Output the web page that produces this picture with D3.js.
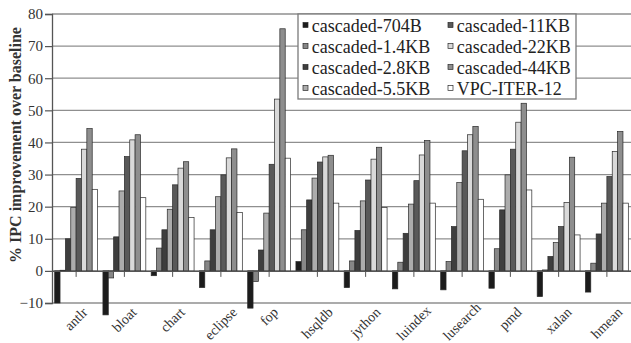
<!DOCTYPE html>
<html><head><meta charset="utf-8">
<script src="https://cdn.jsdelivr.net/npm/d3@7"></script>
<style>body{margin:0;background:#fff}svg{display:block}</style>
</head><body><svg id="c" width="631" height="343"></svg>
<script>
const categories = ["antlr","bloat","chart","eclipse","fop","hsqldb","jython","luindex","lusearch","pmd","xalan","hmean"];
const seriesNames = ["cascaded-704B","cascaded-1.4KB","cascaded-2.8KB","cascaded-5.5KB","cascaded-11KB","cascaded-22KB","cascaded-44KB","VPC-ITER-12"];
const s704B  = [-10, -13.7, -1.5, -5.2, -11.6, 2.9, -5.2, -5.6, -5.9, -5.4, -8.0, -6.6];
const s1_4KB = [0.2, -2.2, 7.1, 3.1, -3.3, 12.8, 3.1, 2.7, 2.9, 6.9, 0.3, 2.4];
const s2_8KB = [10.0, 10.6, 12.8, 12.8, 6.5, 22.1, 12.6, 11.7, 13.8, 19.0, 4.5, 11.5];
const s5_5KB = [19.7, 24.9, 19.2, 23.1, 18.0, 28.9, 21.8, 20.8, 27.5, 29.9, 8.8, 21.1];
const s11KB  = [28.8, 35.6, 26.8, 29.9, 33.2, 33.9, 28.3, 28.1, 37.4, 37.9, 13.8, 29.4];
const s22KB  = [37.9, 40.8, 32.0, 35.2, 53.5, 35.5, 34.8, 36.1, 42.4, 46.3, 21.3, 37.2];
const s44KB  = [44.3, 42.4, 34.0, 38.0, 75.4, 36.0, 38.5, 40.6, 45.0, 52.2, 35.4, 43.4];
const sVPC   = [25.4, 22.8, 16.6, 18.2, 35.1, 21.1, 19.7, 21.1, 22.3, 25.2, 11.2, 21.1];
const yTicks = [-10, 0, 10, 20, 30, 40, 50, 60, 70, 80];
const seriesColors = ["#1c1c1c","#878787","#3e3e3e","#acacac","#595959","#d9d9d9","#8e8e8e","#ffffff"];
const yTitle = "% IPC improvement over baseline";

const allSeries = [s704B, s1_4KB, s2_8KB, s5_5KB, s11KB, s22KB, s44KB, sVPC];

const svg = d3.select("#c");
const pLeft = 52, pRight = 631, pTop = 14, pBottom = 303;
const serif = "'Liberation Serif','Times New Roman',serif";

const y = d3.scaleLinear().domain([-10, 80]).range([pBottom, pTop]);
const x0 = d3.scaleBand().domain(categories).range([pLeft, pRight]).padding(0);
const x1 = d3.scaleBand().domain(seriesNames).range([0, x0.bandwidth()]).paddingInner(0).paddingOuter(0.5);

// gridlines
svg.append("g").selectAll("line").data(yTicks).join("line")
  .attr("x1", pLeft).attr("x2", pRight)
  .attr("y1", d => y(d)).attr("y2", d => y(d))
  .attr("stroke", "#8f8f8f").attr("stroke-width", 1.3);

// y axis
const yAxis = svg.append("g").attr("transform", `translate(${pLeft},0)`)
  .call(d3.axisLeft(y).tickValues(yTicks).tickSize(7).tickPadding(2).tickFormat(d3.format("d")));
yAxis.select(".domain").attr("stroke", "#555").attr("stroke-width", 1.3);
yAxis.selectAll(".tick line").attr("stroke", "#555").attr("stroke-width", 1.2);
yAxis.selectAll("text").attr("font-family", serif).attr("font-size", 15).attr("fill", "#333");

// bars
const groups = svg.append("g").selectAll("g").data(categories).join("g")
  .attr("transform", d => `translate(${x0(d)},0)`);
groups.selectAll("rect").data((c, ci) => seriesNames.map((s, si) => ({s, si, v: allSeries[si][ci]}))).join("rect")
  .attr("x", d => x1(d.s))
  .attr("width", x1.bandwidth())
  .attr("y", d => y(Math.max(0, d.v)))
  .attr("height", d => Math.abs(y(d.v) - y(0)))
  .attr("fill", d => seriesColors[d.si])
  .attr("stroke", "#2a2a2a").attr("stroke-width", 0.7);

// category axis at zero
const xAxis = svg.append("g").attr("transform", `translate(0,${y(0)})`)
  .call(d3.axisBottom(x0).tickSize(6).tickSizeOuter(0));
xAxis.select(".domain").attr("stroke", "#555").attr("stroke-width", 1.3);
xAxis.selectAll(".tick line").attr("stroke", "#555");
xAxis.selectAll("text").remove();

// category labels (rotated, centred under each category)
const labelTop = 306, labelFont = 14;
svg.append("g").selectAll("text").data(categories).join("text")
  .attr("font-family", serif).attr("font-size", labelFont).attr("fill", "#333")
  .attr("text-anchor", "middle").attr("dominant-baseline", "central")
  .text(d => d)
  .each(function(d) {
    const L = this.getComputedTextLength();
    const half = (L + labelFont * 0.8) * Math.SQRT1_2 / 2;
    const cx = x0(d) + x0.bandwidth() / 2;
    const cy = Math.min(labelTop + half, 342 - half);
    d3.select(this).attr("transform", `translate(${cx},${cy}) rotate(-45)`);
  });

// y title
svg.append("text")
  .attr("transform", `translate(15,145) rotate(-90)`)
  .attr("text-anchor", "middle").attr("dominant-baseline", "central")
  .attr("font-family", serif).attr("font-size", 16).attr("font-weight", "bold").attr("fill", "#333")
  .text(yTitle);

// legend (two columns, filled column-wise)
const lg = svg.append("g");
lg.append("rect").attr("x", 298).attr("y", 14).attr("width", 278).attr("height", 85)
  .attr("fill", "#fff").attr("stroke", "#7a7a7a").attr("stroke-width", 1.3);
const items = lg.selectAll("g").data(seriesNames).join("g")
  .attr("transform", (d, i) => `translate(${i < 4 ? 303 : 448},${25 + (i % 4) * 21})`);
items.append("rect").attr("x", 0).attr("y", -2.5).attr("width", 5).attr("height", 5)
  .attr("fill", (d, i) => seriesColors[i]).attr("stroke", "#2a2a2a").attr("stroke-width", 0.7);
items.append("text").attr("x", 8.7).attr("y", 6.5)
  .attr("font-family", serif).attr("font-size", 18).attr("fill", "#222")
  .text(d => d);
</script></body></html>
